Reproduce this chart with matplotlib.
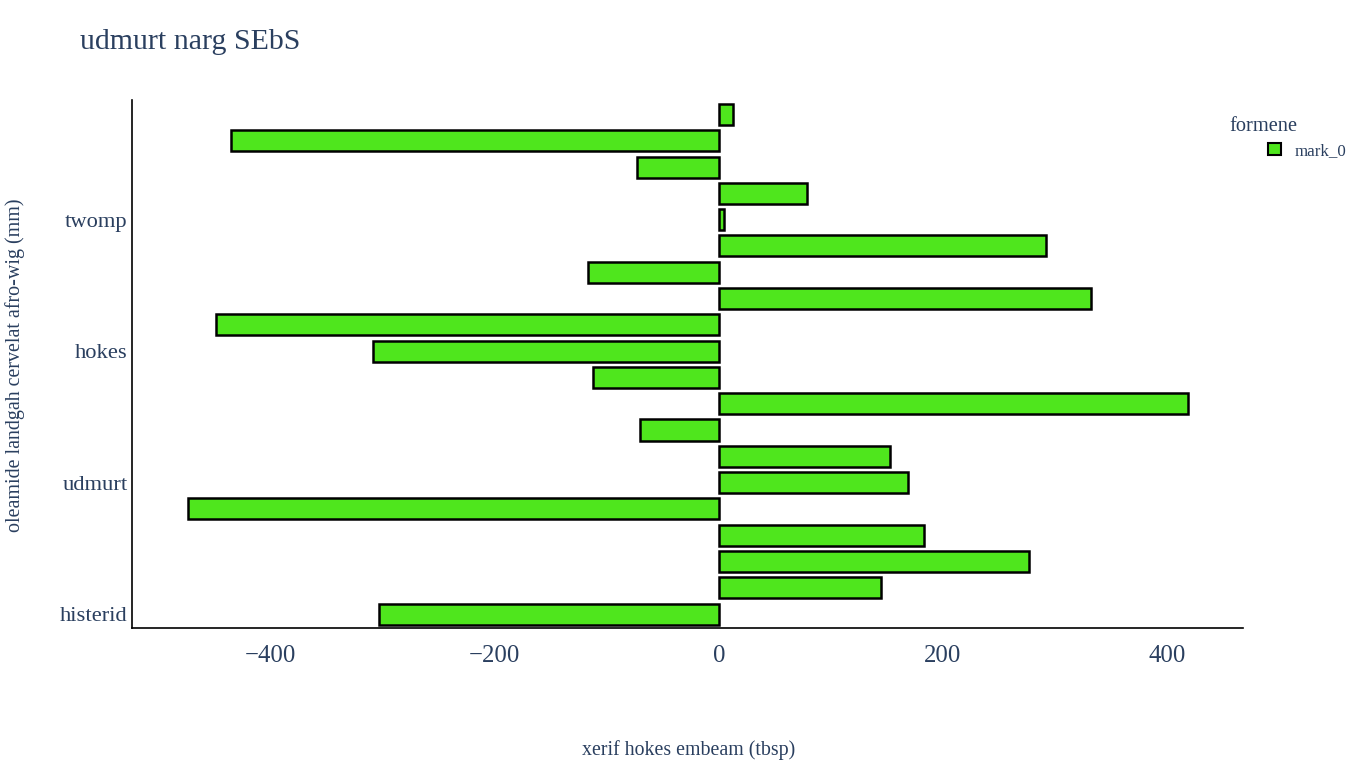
import matplotlib
matplotlib.use('Agg')
import matplotlib.pyplot as plt
from matplotlib.patches import Patch

plt.rcParams['font.family'] = ['Liberation Serif', 'DejaVu Serif']

# Values, bottom bar first
positions = list(range(20))
values = [-303, 145, 277, 183, -474, 169, 153, -70, 419, -112,
          -309, -449, 332, -117, 292, 5, 79, -73, -436, 13]
tick_pos = [0, 5, 10, 15]
tick_labels = ['histerid', 'udmurt', 'hokes', 'twomp']
x_ticks = [-400, -200, 0, 200, 400]

text_col = '#2a3f5f'
bar_col = '#4fe61d'

fig = plt.figure(figsize=(13.66, 7.68), dpi=100)
ax = fig.add_axes([0.0966, 0.1823, 0.8134, 0.6875])

ax.barh(positions, values, height=0.8, color=bar_col,
        edgecolor='black', linewidth=1.8)

ax.set_xlim(-524, 468)
ax.set_ylim(-0.53, 19.55)
ax.set_yticks(tick_pos)
ax.set_yticklabels(tick_labels)
ax.set_xticks(x_ticks)
ax.set_xticklabels(['\u2212400', '\u2212200', '0', '200', '400'])
ax.tick_params(axis='both', length=0, labelcolor=text_col)
ax.tick_params(axis='x', pad=12, labelsize=17.8)
ax.tick_params(axis='y', pad=3, labelsize=16.2)

for s in ['top', 'right']:
    ax.spines[s].set_visible(False)
for s in ['left', 'bottom']:
    ax.spines[s].set_linewidth(1.2)
    ax.spines[s].set_color('black')

fig.text(0.0586, 0.945, 'udmurt narg SEbS', fontsize=21.5, color=text_col,
         va='center', ha='left')
fig.text(0.504, 0.024, 'xerif hokes embeam (tbsp)', fontsize=14.3,
         color=text_col, ha='center', va='center')
fig.text(0.011, 0.525, 'oleamide landgah cervelat afro-wig (mm)',
         fontsize=14.4, color=text_col, ha='center', va='center',
         rotation=90)

# legend title drawn apart so the entry can sit indented under it
fig.text(0.8997, 0.835, 'formene', fontsize=14.7, color=text_col,
         ha='left', va='center')
handles = [Patch(facecolor=bar_col, edgecolor='black', linewidth=1.5,
                 label='mark_0')]
leg = fig.legend(handles=handles, loc='upper left',
                 bbox_to_anchor=(1268 / 1366, 0.814), frameon=False,
                 fontsize=12.2, handlelength=0.75, handleheight=0.75,
                 handletextpad=0.8, borderpad=0, borderaxespad=0)
for t in leg.get_texts():
    t.set_color(text_col)

fig.savefig('out.png', dpi=100)
